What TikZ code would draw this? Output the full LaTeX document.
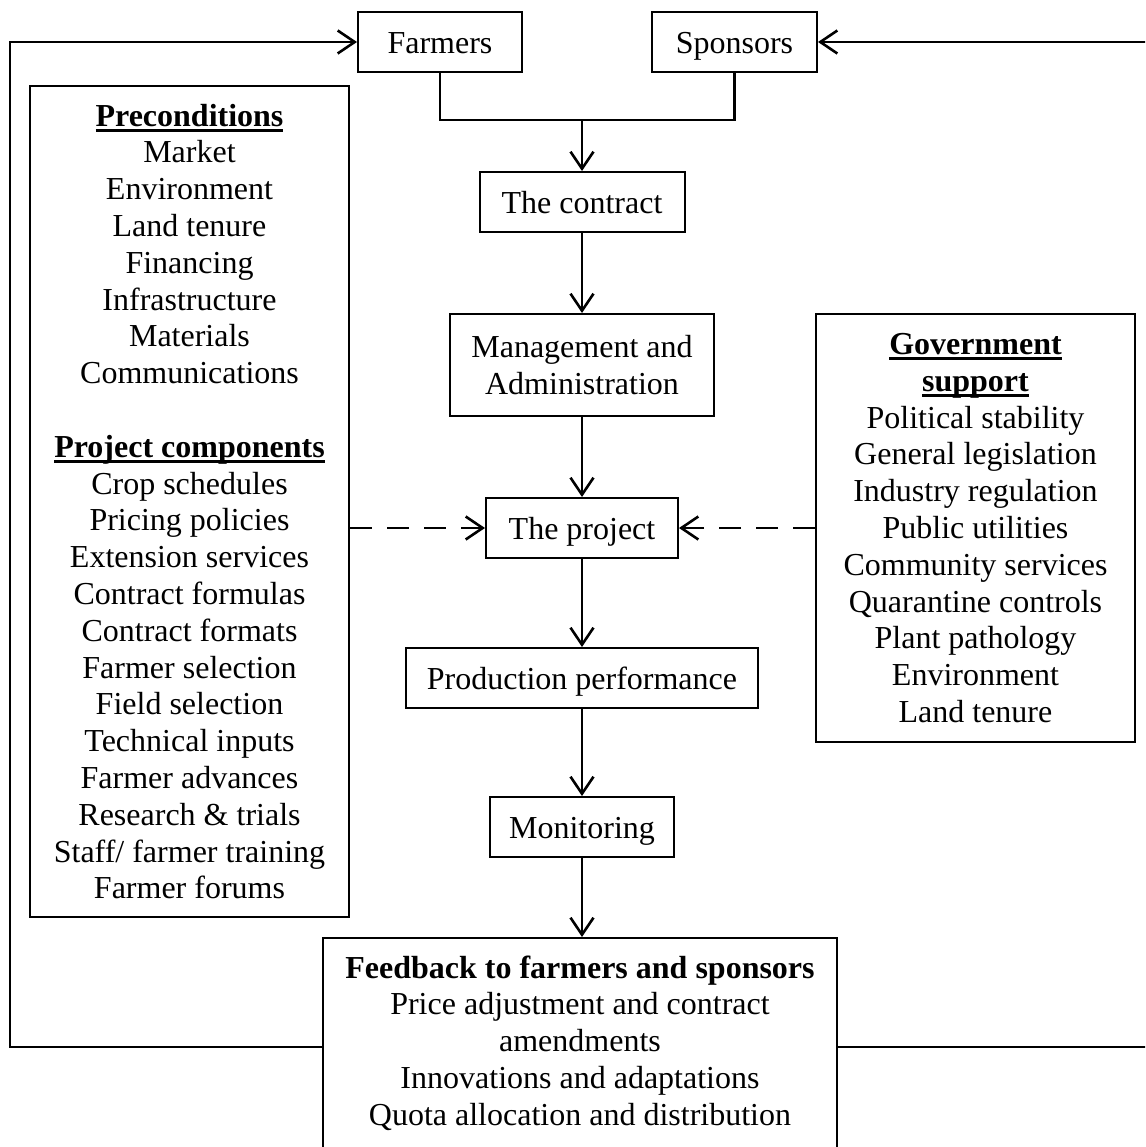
\documentclass[tikz,border=0pt]{standalone}
\usepackage{fontspec}
\setmainfont{Liberation Serif}
\usetikzlibrary{arrows.meta}
\newcommand\hul[1]{\setbox0\hbox{\textbf{#1}}\leavevmode\rlap{\rule[-6pt]{\wd0}{3pt}}\box0}
\begin{document}
\begin{tikzpicture}[x=1pt,y=-1pt,
  box/.style={draw, line width=2pt, inner sep=0pt, align=center,
    font=\fontsize{32}{36.8}\selectfont},
  one/.style={box, minimum height=60pt, text height=26pt, text depth=3pt},
  txt/.style={inner sep=0pt, align=center, font=\fontsize{32}{36.8}\selectfont},
  conn/.style={line width=2.6pt},
  arr/.style={conn, -{Straight Barb[length=17pt,width=23pt,line width=2.6pt]}},
  dsh/.style={arr, dash pattern=on 22pt off 15pt}]
\useasboundingbox (0,0) rectangle (1145,1147);
\clip (0,0) rectangle (1145,1147);
\node[one, minimum width=164pt] (farmers) at (440,42) {Farmers};
\node[one, minimum width=165pt] (sponsors) at (734.5,42) {Sponsors};
\node[one, minimum width=205pt] (contract) at (582,202) {The contract};
\node[box, minimum width=264pt, minimum height=102pt] (mgmt) at (582,365) {Management and\\Administration};
\node[one, minimum width=192pt] (project) at (582,528) {The project};
\node[one, minimum width=352pt] (prod) at (582,678) {Production performance};
\node[one, minimum width=184pt] (monitor) at (582,827) {Monitoring};
\node[box, minimum width=514pt, minimum height=218pt] (fb) at (580,1047) {};
\node[txt] (fbtext) at (580,1043)
  {\textbf{Feedback to farmers and sponsors}\\Price adjustment and contract\\amendments\\Innovations and adaptations\\Quota allocation and distribution};
\node[box, minimum width=319pt, minimum height=831pt] (left) at (189.5,501.5)
  {\hul{Preconditions}\\Market\\Environment\\Land tenure\\Financing\\Infrastructure\\Materials\\Communications\\[36.8pt]
   \hul{Project components}\\Crop schedules\\Pricing policies\\Extension services\\Contract formulas\\Contract formats\\Farmer selection\\Field selection\\Technical inputs\\Farmer advances\\Research \& trials\\Staff/ farmer training\\Farmer forums};
\node[box, minimum width=319pt, minimum height=428pt] (right) at (975.5,528)
  {\hul{Government}\\\hul{support}\\Political stability\\General legislation\\Industry regulation\\Public utilities\\Community services\\Quarantine controls\\Plant pathology\\Environment\\Land tenure};
\coordinate (j) at (582,120);
\draw[conn] (farmers.south) |- (j) -| (sponsors.south);
\draw[arr] (j) -- (contract.north);
\draw[arr] (contract.south) -- (mgmt.north);
\draw[arr] (mgmt.south) -- (project.north);
\draw[arr] (project.south) -- (prod.north);
\draw[arr] (prod.south) -- (monitor.north);
\draw[arr] (monitor.south) -- (monitor.south |- fb.north);
\draw[dsh] (left.east |- project) -- (project.west);
\draw[dsh] (right.west |- project) -- (project.east);
\coordinate (cl) at (10,1047);
\coordinate (ctl) at (10,42);
\coordinate (cr) at (1148,1047);
\coordinate (ctr) at (1148,42);
\draw[arr] (cl -| fb.west) -- (cl) -- (ctl) -- (farmers.west);
\draw[arr] (cr -| fb.east) -- (cr) -- (ctr) -- (sponsors.east);
\end{tikzpicture}
\end{document}
